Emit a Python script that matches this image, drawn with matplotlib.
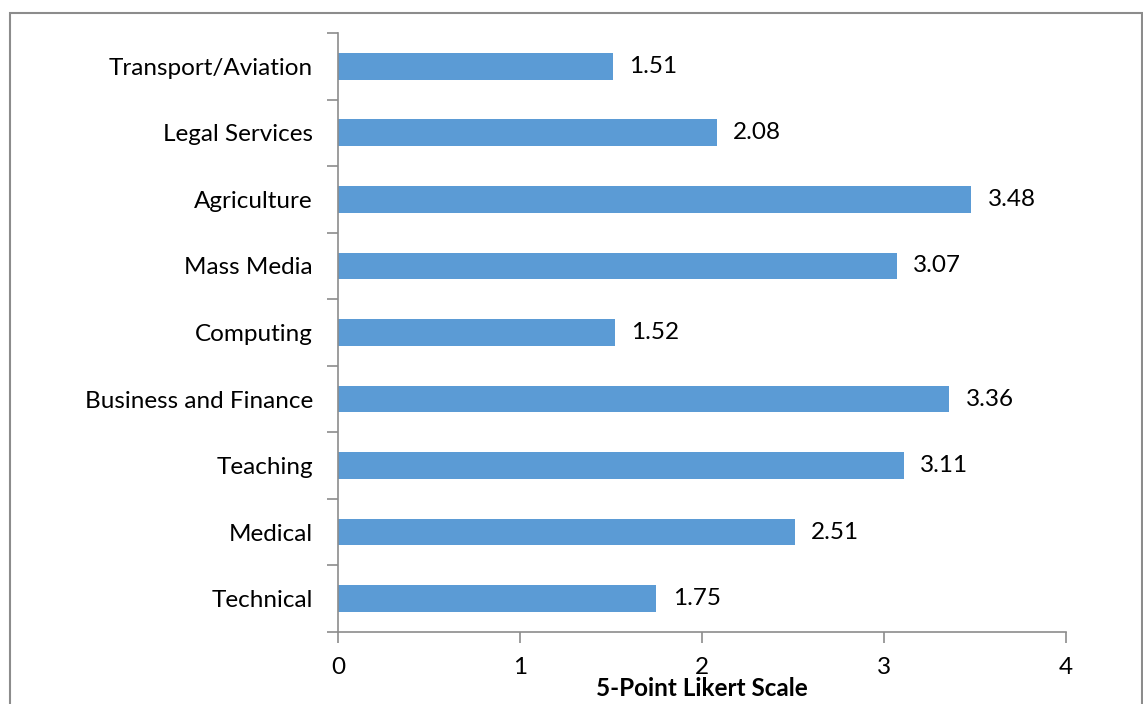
import matplotlib.pyplot as plt
from matplotlib.patches import Rectangle
import numpy as np

categories = ["Technical", "Medical", "Teaching", "Business and Finance", "Computing",
              "Mass Media", "Agriculture", "Legal Services", "Transport/Aviation"]
scores = [1.75, 2.51, 3.11, 3.36, 1.52, 3.07, 3.48, 2.08, 1.51]

plt.rcParams['font.family'] = ['Lato', 'DejaVu Sans']
fs = 17.5

fig = plt.figure(figsize=(11.43, 7.04), dpi=100)
ax = fig.add_axes([0.2957, 0.1023, 0.6369, 0.8509])

# outer chart border
fig.patches.append(Rectangle((10 / 1143, -0.05), 1132 / 1143, 1.05 - 13 / 704,
                             transform=fig.transFigure, fill=False,
                             edgecolor='#8c8c8c', linewidth=1.5))

y = np.arange(len(categories))
ax.barh(y, scores, height=0.4, color='#5B9BD5')
for yi, v in zip(y, scores):
    ax.text(v + 0.09, yi, f"{v:.2f}", va='center', ha='left', fontsize=fs)

ax.set_xlim(0, 4)
ax.set_ylim(-0.5, len(categories) - 0.5)
ax.set_xticks([0, 1, 2, 3, 4])
ax.set_yticks(y)
ax.set_yticklabels(categories)
ax.set_yticks(np.arange(-0.5, len(categories)), minor=True)
ax.tick_params(axis='y', which='major', length=0, pad=18, labelsize=fs)
ax.tick_params(axis='y', which='minor', length=8, color='#8c8c8c', width=1.2)
ax.tick_params(axis='x', length=8, color='#8c8c8c', width=1.2, pad=10, labelsize=fs)

for s in ['top', 'right']:
    ax.spines[s].set_visible(False)
for s in ['left', 'bottom']:
    ax.spines[s].set_color('#8c8c8c')
    ax.spines[s].set_linewidth(1.2)

ax.set_xlabel('5-Point Likert Scale', fontsize=fs, fontweight='bold', labelpad=-1)

fig.savefig('out.png', dpi=100)
